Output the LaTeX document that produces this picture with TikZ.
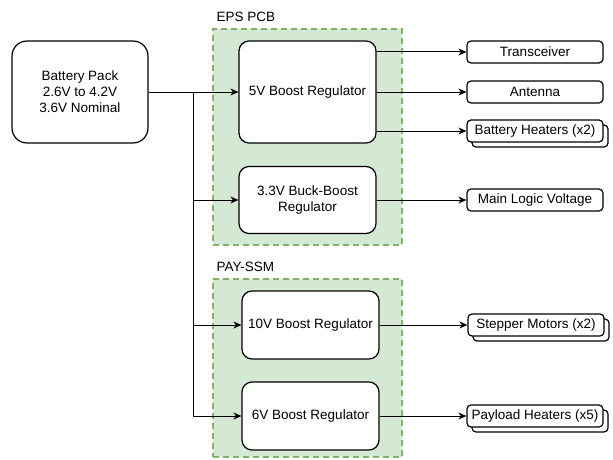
\documentclass[tikz,border=0pt]{standalone}
\usepackage{fontspec}
\setmainfont{Liberation Sans}
\usetikzlibrary{arrows.meta,shadows}

\definecolor{pcbfill}{HTML}{D5E8D4}
\definecolor{pcbline}{HTML}{82B366}

\tikzstyle{block}=[rectangle,draw,fill=white,line width=1.2pt,rounded corners=10pt,align=center,minimum width=137pt]
\tikzstyle{load}=[rectangle,draw,fill=white,line width=1.2pt,rounded corners=4pt,minimum width=136pt,minimum height=22pt,inner sep=0pt]
\tikzstyle{multiload}=[load,copy shadow={shadow xshift=5pt,shadow yshift=-5pt}]
\tikzstyle{board}=[rectangle,draw=pcbline,fill=pcbfill,line width=1.5pt,dash pattern=on 6pt off 4pt,minimum width=189pt]
\tikzstyle{wire}=[line width=1pt,-{Stealth[length=8pt,width=7pt,inset=2.5pt]}]

\begin{document}
\begin{tikzpicture}[x=1pt,y=-1pt,font=\fontsize{13.5}{16}\selectfont]
\useasboundingbox (0,0) rectangle (613,460);

% boards
\node[board,minimum height=216pt] (eps) at (307.5,137) {};
\node[anchor=west] (epslbl) at (213,17) {EPS PCB};
\node[board,minimum height=178pt] (pay) at (307.5,368) {};
\node[anchor=west] (paylbl) at (213,267) {PAY-SSM};

% source
\node[block,rounded corners=15pt,minimum width=136pt,minimum height=102pt] (bat) at (80,92) {Battery Pack\\2.6V to 4.2V\\3.6V Nominal};

% regulators
\node[block,minimum height=102pt] (boost5) at (307.5,92) {5V Boost Regulator};
\node[block,minimum height=67pt] (buck33) at (307.5,200) {3.3V Buck-Boost\\Regulator};
\node[block,minimum height=68pt] (boost10) at (310.5,325) {10V Boost Regulator};
\node[block,minimum height=68pt] (boost6) at (310.5,416) {6V Boost Regulator};

% loads
\node[load] (trx) at (535,52) {Transceiver};
\node[load] (ant) at (535,92) {Antenna};
\node[multiload] (batheat) at (535,131) {Battery Heaters (x2)};
\node[load] (logic) at (535,200) {Main Logic Voltage};
\node[multiload] (motors) at (536,325) {Stepper Motors (x2)};
\node[multiload] (payheat) at (535,416) {Payload Heaters (x5)};

% distribution
\coordinate (split) at (193,92);
\draw[wire] (bat.east) -- (boost5.west);
\draw[wire] (split) |- (buck33.west);
\draw[wire] (split) |- (boost10.west);
\draw[wire] (split) |- (boost6.west);

% outputs
\draw[wire] (boost5.east |- trx.west) -- (trx.west);
\draw[wire] (boost5.east |- ant.west) -- (ant.west);
\draw[wire] (boost5.east |- batheat.west) -- (batheat.west);
\draw[wire] (buck33.east) -- (logic.west);
\draw[wire] (boost10.east) -- (motors.west);
\draw[wire] (boost6.east) -- (payheat.west);
\end{tikzpicture}
\end{document}
